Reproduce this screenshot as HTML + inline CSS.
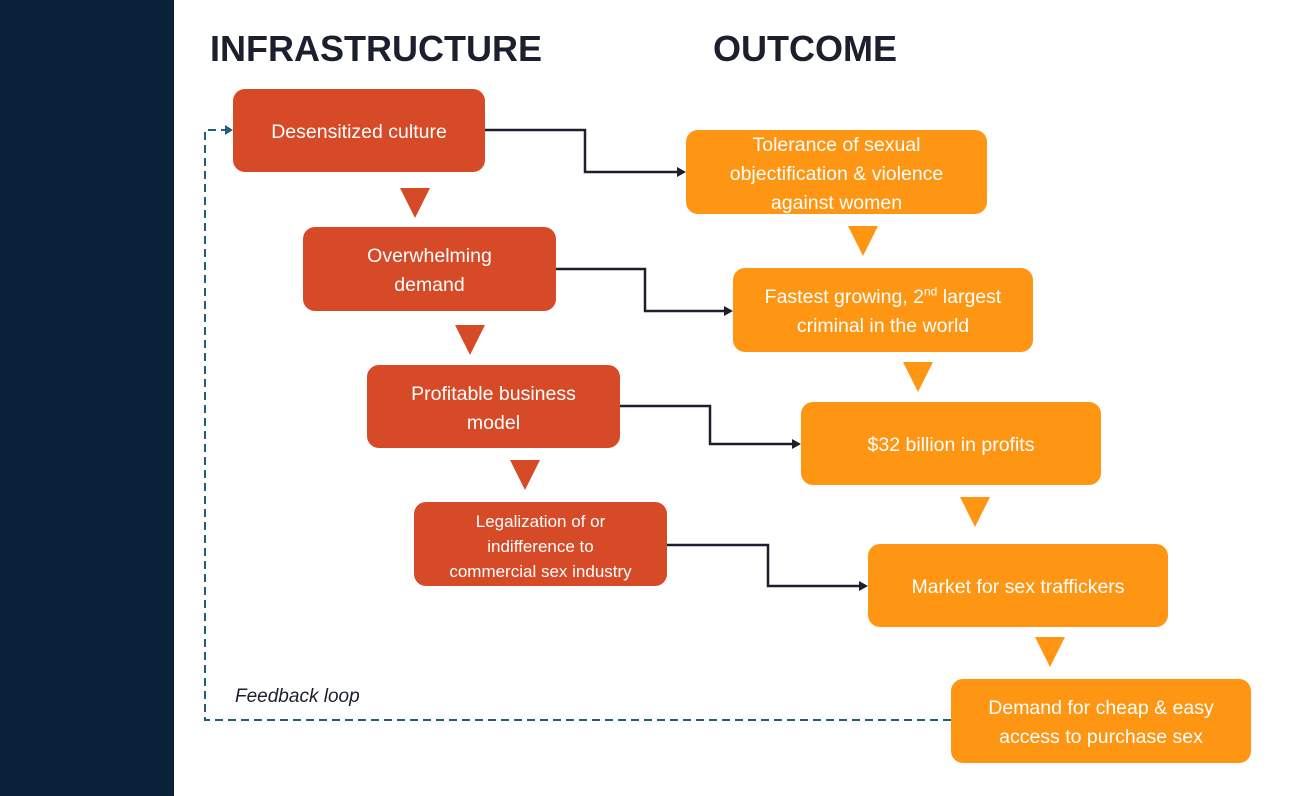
<!DOCTYPE html>
<html><head><style>
body{margin:0;width:1308px;height:796px;background:#fff;position:relative;overflow:hidden;font-family:"Liberation Sans",sans-serif}
.side{position:absolute;left:0;top:0;width:174px;height:796px;background:#0a2239}
.h{position:absolute;top:28px;font-weight:bold;font-size:36px;color:#1b1f2e}
.b{position:absolute;border-radius:12px;color:#fff;display:flex;align-items:center;justify-content:center;text-align:center;font-size:19.5px;line-height:29px;box-sizing:border-box;padding-top:4px}
.r{background:#d64a27}.o{background:#fe9614}
.fl{position:absolute;left:235px;top:686px;font-style:italic;font-size:19px;color:#1b1f2e}
</style></head><body>
<div class="side"></div>
<div class="h" style="left:210px">INFRASTRUCTURE</div>
<div class="h" style="left:713px">OUTCOME</div>
<div class="b r" style="left:233px;top:89px;width:252px;height:83px"><span>Desensitized culture</span></div>
<div class="b r" style="left:303px;top:227px;width:253px;height:84px"><span>Overwhelming<br>demand</span></div>
<div class="b r" style="left:367px;top:365px;width:253px;height:83px"><span>Profitable business<br>model</span></div>
<div class="b r" style="left:414px;top:502px;width:253px;height:84px;font-size:17px;line-height:25px"><span>Legalization of or<br>indifference to<br>commercial sex industry</span></div>
<div class="b o" style="left:686px;top:130px;width:301px;height:84px"><span>Tolerance of sexual<br>objectification &amp; violence<br>against women</span></div>
<div class="b o" style="left:733px;top:268px;width:300px;height:84px"><span>Fastest growing, 2<sup style="font-size:12px;line-height:0">nd</sup> largest<br>criminal in the world</span></div>
<div class="b o" style="left:801px;top:402px;width:300px;height:83px"><span>$32 billion in profits</span></div>
<div class="b o" style="left:868px;top:544px;width:300px;height:83px"><span>Market for sex traffickers</span></div>
<div class="b o" style="left:951px;top:679px;width:300px;height:84px"><span>Demand for cheap &amp; easy<br>access to purchase sex</span></div>
<div class="fl">Feedback loop</div>
<svg width="1308" height="796" style="position:absolute;left:0;top:0">
<g fill="#d64a27">
<polygon points="400,188 430,188 415,218"/>
<polygon points="455,325 485,325 470,355"/>
<polygon points="510,460 540,460 525,490"/>
</g>
<g fill="#fe9614">
<polygon points="848,226 878,226 863,256"/>
<polygon points="903,362 933,362 918,392"/>
<polygon points="960,497 990,497 975,527"/>
<polygon points="1035,637 1065,637 1050,667"/>
</g>
<g fill="none" stroke="#1b1f2e" stroke-width="2.5">
<polyline points="485,130 585,130 585,172 678,172"/>
<polyline points="556,269 645,269 645,311 725,311"/>
<polyline points="620,406 710,406 710,444 793,444"/>
<polyline points="667,545 768,545 768,586 860,586"/>
</g>
<g fill="#1b1f2e">
<polygon points="686,172 677,167 677,177"/>
<polygon points="733,311 724,306 724,316"/>
<polygon points="801,444 792,439 792,449"/>
<polygon points="868,586 859,581 859,591"/>
</g>
<polyline points="951,720 205,720 205,130 226,130" fill="none" stroke="#1f5f7a" stroke-width="2" stroke-dasharray="8,5"/>
<polygon points="233,130 225,125 225,135" fill="#1f5f7a"/>
</svg>
</body></html>
